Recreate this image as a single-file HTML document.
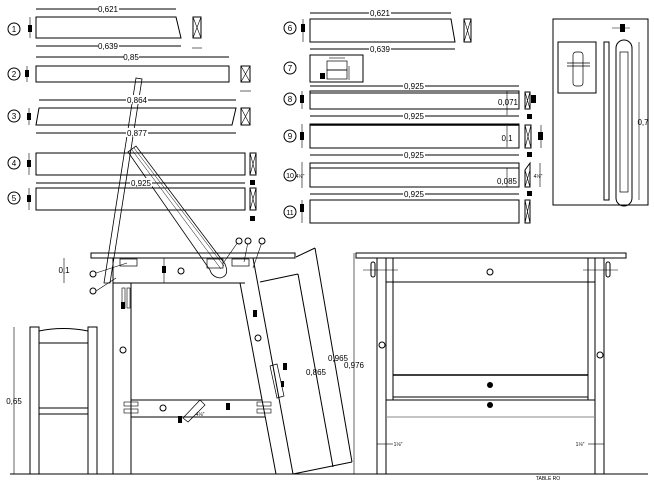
<!DOCTYPE html>
<html><head><meta charset="utf-8"><style>
html,body{margin:0;padding:0;background:#fff}
svg{display:block}
text{font-family:"Liberation Sans",sans-serif;fill:#000}
</style></head><body>
<svg width="654" height="481" viewBox="0 0 654 481" xmlns="http://www.w3.org/2000/svg">
<g stroke="#000" stroke-width="1" fill="none">
<!-- part 1 -->
<path d="M36 17 L176 17 L181 38 L36 38 Z"/>
<line x1="36" y1="9" x2="176" y2="9"/><line x1="36" y1="46" x2="181" y2="46"/>
<line x1="30" y1="17" x2="30" y2="38" stroke-width="0.6"/>
<rect x="193" y="17" width="8" height="21"/><path d="M193 17 L201 38 M201 17 L193 38" stroke-width="0.6"/>
<line x1="192" y1="48" x2="202" y2="48" stroke-width="0.6"/>
<!-- part 2 -->
<rect x="36" y="66" width="193" height="16"/>
<line x1="36" y1="57" x2="229" y2="57"/>
<line x1="27" y1="66" x2="27" y2="82" stroke-width="0.6"/>
<rect x="241" y="66" width="9" height="16"/><path d="M241 66 L250 82 M250 66 L241 82" stroke-width="0.6"/>
<line x1="240" y1="91" x2="251" y2="91" stroke-width="0.6"/>
<!-- part 3 -->
<path d="M39 108 L236 108 L232 125 L36 125 Z"/>
<line x1="39" y1="100" x2="236" y2="100"/><line x1="36" y1="133" x2="236" y2="133"/>
<line x1="29" y1="108" x2="29" y2="125" stroke-width="0.6"/>
<rect x="241" y="108" width="9" height="17"/><path d="M241 108 L250 125 M250 108 L241 125" stroke-width="0.6"/>
<!-- part 4,5 -->
<rect x="36" y="153" width="209" height="22"/>
<line x1="29" y1="153" x2="29" y2="175" stroke-width="0.6"/>
<rect x="250" y="153" width="6" height="22"/><path d="M250 153 L256 175 M256 153 L250 175" stroke-width="0.6"/>
<rect x="36" y="188" width="209" height="22"/>
<line x1="36" y1="183" x2="245" y2="183"/>
<line x1="29" y1="188" x2="29" y2="210" stroke-width="0.6"/>
<rect x="250" y="188" width="6" height="22"/><path d="M250 188 L256 210 M256 188 L250 210" stroke-width="0.6"/>
<!-- part 6 -->
<path d="M310 19 L451 19 L455 42 L310 42 Z"/>
<line x1="310" y1="13" x2="451" y2="13"/><line x1="310" y1="49" x2="455" y2="49"/>
<line x1="303" y1="19" x2="303" y2="42" stroke-width="0.6"/>
<rect x="464" y="19" width="7" height="23"/><path d="M464 19 L471 42 M471 19 L464 42" stroke-width="0.6"/>
<!-- part 7 -->
<rect x="310" y="55" width="53" height="27"/>
<rect x="327" y="61" width="20" height="9" stroke-width="0.7"/><rect x="327" y="70" width="20" height="9" stroke-width="0.7"/>
<line x1="329" y1="58" x2="345" y2="58" stroke-width="0.6"/><line x1="349" y1="66" x2="349" y2="80" stroke-width="0.6"/>
<!-- part 8 -->
<rect x="310" y="91" width="209" height="18"/><line x1="310" y1="93" x2="519" y2="93"/>
<line x1="310" y1="86" x2="519" y2="86"/><line x1="507" y1="91" x2="507" y2="115" stroke-width="0.6"/>
<line x1="302" y1="91" x2="302" y2="109" stroke-width="0.6"/>
<rect x="525" y="92" width="5" height="17"/><path d="M525 92 L530 109 M530 92 L525 109" stroke-width="0.6"/>
<!-- part 9 -->
<rect x="310" y="124" width="209" height="24"/><line x1="310" y1="125" x2="519" y2="125" stroke-width="1.5"/>
<line x1="310" y1="116" x2="519" y2="116"/><line x1="507" y1="126" x2="507" y2="147" stroke-width="0.6"/>
<line x1="302" y1="124" x2="302" y2="148" stroke-width="0.6"/>
<rect x="525" y="125" width="6" height="23"/><path d="M525 125 L531 148 M531 125 L525 148" stroke-width="0.6"/>
<line x1="541" y1="125" x2="541" y2="148" stroke-width="0.6"/>
<!-- part 10 -->
<rect x="310" y="163" width="209" height="24"/><line x1="310" y1="168" x2="519" y2="168"/>
<line x1="310" y1="155" x2="519" y2="155"/><line x1="507" y1="168" x2="507" y2="187" stroke-width="0.6"/>
<line x1="302" y1="162" x2="302" y2="188" stroke-width="0.6"/>
<path d="M525 170 L530 163 L530 187 L525 187 Z"/><path d="M525 170 L530 187 M530 170 L525 187" stroke-width="0.6"/>
<line x1="540" y1="163" x2="540" y2="187" stroke-width="0.6"/>
<!-- part 11 -->
<rect x="310" y="200" width="209" height="23"/>
<line x1="310" y1="194" x2="519" y2="194"/>
<line x1="302" y1="200" x2="302" y2="223" stroke-width="0.6"/>
<rect x="525" y="200" width="5" height="23"/><path d="M525 200 L530 223 M530 200 L525 223" stroke-width="0.6"/>
<!-- detail box -->
<rect x="553" y="19" width="95" height="186"/>
<rect x="558" y="42" width="38" height="51"/>
<line x1="567" y1="63" x2="590" y2="63" stroke-width="0.7"/><line x1="567" y1="66" x2="590" y2="66" stroke-width="0.7"/>
<rect x="573" y="52" width="10" height="34" rx="3" stroke-width="0.7"/>
<rect x="604" y="42" width="5" height="158"/>
<path d="M616 48 a8 8 0 0 1 16 0 L632 198 a8 8 0 0 1 -16 0 Z"/>
<rect x="620" y="52" width="8" height="140" stroke-width="0.7"/>
<line x1="639" y1="42" x2="639" y2="200" stroke-width="0.6"/>
<line x1="612" y1="28" x2="630" y2="28" stroke-width="0.6"/>
<!-- side view -->
<rect x="91" y="253" width="204" height="5"/>
<line x1="113" y1="258" x2="113" y2="474"/><line x1="131" y1="283" x2="131" y2="474"/>
<line x1="113" y1="283" x2="245" y2="283"/>
<line x1="131" y1="400" x2="262" y2="400"/><line x1="131" y1="417" x2="265" y2="417"/>
<line x1="240" y1="283" x2="276" y2="474"/><line x1="253" y1="258" x2="293" y2="474"/>
<line x1="260" y1="282" x2="298" y2="274"/><line x1="296" y1="257" x2="315" y2="248"/>
<line x1="315" y1="248" x2="352" y2="462"/><line x1="298" y1="274" x2="333" y2="467"/>
<line x1="352" y1="462" x2="293" y2="474"/>
<rect x="122" y="288" width="3" height="20" stroke-width="0.6"/><rect x="127" y="288" width="3" height="20" stroke-width="0.6"/>
<rect x="124" y="402" width="14" height="4" stroke-width="0.6"/><rect x="124" y="409" width="14" height="4" stroke-width="0.6"/>
<rect x="257" y="402" width="14" height="4" stroke-width="0.6"/><rect x="257" y="409" width="14" height="4" stroke-width="0.6"/>
<rect x="120" y="259" width="17" height="7" stroke-width="0.7"/>
<rect x="207" y="259" width="16" height="9" stroke-width="0.7"/><rect x="232" y="259" width="17" height="7" stroke-width="0.7"/>
<path d="M270 366 L277 364 L284 396 L277 398 Z" stroke-width="0.7"/>
<path d="M183 418 L200 400 L205 405 L188 422 Z" stroke-width="0.7"/>
<!-- diagonal pieces -->
<path d="M136 78 L142 79 L110 283 L104 283 Z" stroke-width="0.8"/>
<path d="M128 152 L136 146 L225 264 Q230 276 220 278 Q212 277 210 270 Z" stroke-width="0.8"/>
<line x1="132" y1="150" x2="221" y2="269" stroke-width="0.5"/>
<line x1="134" y1="148" x2="224" y2="266" stroke-width="0.5"/>
<!-- chair -->
<rect x="30" y="327" width="9" height="147"/><rect x="88" y="327" width="9" height="147"/>
<path d="M39 331 Q63 326 88 331"/>
<line x1="39" y1="343" x2="88" y2="343"/><line x1="39" y1="408" x2="88" y2="408"/><line x1="39" y1="414" x2="88" y2="414"/>
<line x1="14" y1="327" x2="14" y2="474" stroke-width="0.6"/>
<line x1="64" y1="258" x2="64" y2="283" stroke-width="0.6"/>
<line x1="164" y1="258" x2="164" y2="283" stroke-width="0.6"/>
<!-- ground lines -->
<line x1="10" y1="474" x2="360" y2="474"/>
<line x1="352" y1="474" x2="648" y2="474"/>
<!-- front view -->
<rect x="356" y="253" width="270" height="5"/>
<line x1="377" y1="258" x2="377" y2="474"/><line x1="386" y1="258" x2="386" y2="474"/><line x1="393" y1="258" x2="393" y2="400"/>
<line x1="595" y1="258" x2="595" y2="474"/><line x1="604" y1="258" x2="604" y2="474"/><line x1="588" y1="258" x2="588" y2="400"/>
<line x1="386" y1="282" x2="595" y2="282"/>
<line x1="393" y1="375" x2="588" y2="375" stroke-width="1.5"/>
<line x1="393" y1="397" x2="588" y2="397"/>
<line x1="386" y1="400" x2="595" y2="400"/>
<line x1="386" y1="417" x2="595" y2="417" stroke="#888"/>
<line x1="354" y1="253" x2="354" y2="474" stroke-width="0.6"/>
<line x1="363" y1="270" x2="398" y2="270" stroke-width="0.6"/><line x1="583" y1="270" x2="618" y2="270" stroke-width="0.6"/>
<rect x="371" y="262" width="4" height="15" rx="2"/><rect x="606" y="262" width="4" height="15" rx="2"/>
<line x1="377" y1="444" x2="393" y2="444" stroke-width="0.6"/><line x1="588" y1="444" x2="604" y2="444" stroke-width="0.6"/>
<!-- leader lines -->
<path d="M96 273 L127 263 M96 291 L116 278 M238 242 L224 262 M248 242 L244 262 M262 242 L253 268" stroke-width="0.6"/>
</g>
<g fill="#000">
<rect x="28" y="25" width="4" height="7"/><rect x="25" y="70" width="4" height="7"/><rect x="27" y="113" width="4" height="7"/>
<rect x="27" y="160" width="4" height="7"/><rect x="27" y="195" width="4" height="7"/>
<rect x="301" y="24" width="4" height="8"/><rect x="300" y="95" width="4" height="8"/><rect x="300" y="132" width="4" height="8"/>
<rect x="300" y="204" width="4" height="8"/><rect x="531" y="95" width="5" height="8"/><rect x="538" y="132" width="5" height="8"/>
<rect x="250" y="180" width="5" height="5"/><rect x="250" y="216" width="5" height="5"/><rect x="527" y="114" width="5" height="5"/><rect x="527" y="152" width="5" height="5"/><rect x="527" y="191" width="5" height="5"/>
<rect x="620" y="24" width="5" height="8"/><rect x="320" y="73" width="5" height="6"/>
<rect x="162" y="266" width="4" height="7"/><rect x="121" y="302" width="4" height="7"/><rect x="253" y="310" width="4" height="7"/>
<rect x="283" y="363" width="4" height="7"/><rect x="281" y="381" width="3" height="6"/><rect x="226" y="403" width="4" height="7"/><rect x="178" y="416" width="4" height="7"/>
</g>
<g fill="#fff" stroke="#000" stroke-width="1">
<circle cx="14" cy="29" r="6"/><circle cx="14" cy="74" r="6"/><circle cx="14" cy="116" r="6"/><circle cx="14" cy="163" r="6"/><circle cx="14" cy="198" r="6"/>
<circle cx="290" cy="28" r="6"/><circle cx="290" cy="68" r="6"/><circle cx="290" cy="99" r="6"/><circle cx="290" cy="136" r="6"/><circle cx="290" cy="175" r="6"/><circle cx="290" cy="212" r="6"/>
</g>
<g font-size="8" text-anchor="middle">
<text x="14" y="32">1</text><text x="14" y="77">2</text><text x="14" y="119">3</text><text x="14" y="166">4</text><text x="14" y="201">5</text>
<text x="290" y="31">6</text><text x="290" y="71">7</text><text x="290" y="102">8</text><text x="290" y="139">9</text><text x="290" y="178" font-size="7">10</text><text x="290" y="215" font-size="7">11</text>
</g>
<g font-size="8" text-anchor="middle">
<rect x="98" y="4" width="21" height="9" fill="#fff"/><text x="108" y="12">0,621</text>
<rect x="98" y="41" width="21" height="9" fill="#fff"/><text x="108" y="49">0,639</text>
<rect x="124" y="52" width="15" height="9" fill="#fff"/><text x="131" y="60">0,85</text>
<rect x="126" y="95" width="22" height="9" fill="#fff"/><text x="137" y="103">0,864</text>
<rect x="126" y="128" width="22" height="9" fill="#fff"/><text x="137" y="136">0,877</text>
<rect x="130" y="178" width="22" height="9" fill="#fff"/><text x="141" y="186">0,925</text>
<rect x="369" y="8" width="22" height="9" fill="#fff"/><text x="380" y="16">0,621</text>
<rect x="369" y="44" width="22" height="9" fill="#fff"/><text x="380" y="52">0,639</text>
<rect x="403" y="81" width="22" height="9" fill="#fff"/><text x="414" y="89">0,925</text>
<rect x="403" y="111" width="22" height="9" fill="#fff"/><text x="414" y="119">0,925</text>
<rect x="403" y="150" width="22" height="9" fill="#fff"/><text x="414" y="158">0,925</text>
<rect x="403" y="189" width="22" height="9" fill="#fff"/><text x="414" y="197">0,925</text>
<text x="508" y="105">0,071</text><text x="507" y="141">0,1</text><text x="507" y="184">0,085</text>
<text x="643" y="125">0,7</text>
<text x="64" y="273">0,1</text><text x="14" y="404">0,65</text>
<text x="338" y="361">0,965</text><text x="316" y="375">0,865</text><text x="354" y="368">0,976</text>
<text x="548" y="480" font-size="5">TABLE RO</text>
<text x="398" y="446" font-size="5">1⅛"</text><text x="580" y="446" font-size="5">1⅛"</text>
<text x="300" y="178" font-size="5">4⅛"</text><text x="538" y="178" font-size="5">4⅛"</text>
<text x="200" y="416" font-size="5">4⅛"</text>
</g>
<g fill="#fff" stroke="#000" stroke-width="1">
<circle cx="93" cy="274" r="3"/><circle cx="93" cy="291" r="3"/><circle cx="181" cy="271" r="3"/>
<circle cx="239" cy="241" r="3"/><circle cx="248" cy="241" r="3"/><circle cx="262" cy="241" r="3"/>
<circle cx="123" cy="350" r="3"/><circle cx="258" cy="338" r="3"/><circle cx="163" cy="408" r="3"/>
<circle cx="490" cy="272" r="3"/><circle cx="382" cy="345" r="3"/><circle cx="600" cy="355" r="3"/>
</g>
<g fill="#000"><circle cx="490" cy="385" r="3"/><circle cx="490" cy="405" r="3"/></g>
</svg>
</body></html>
